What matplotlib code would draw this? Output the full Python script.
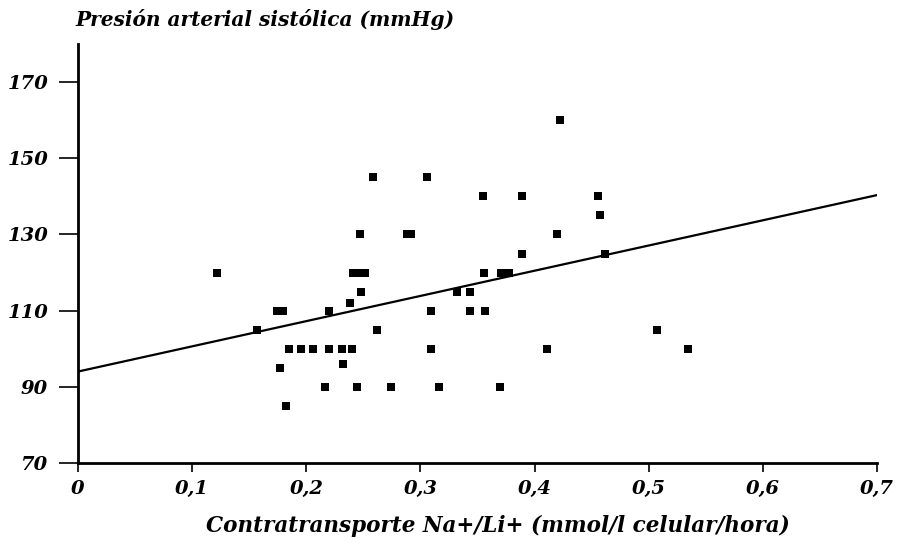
import matplotlib
matplotlib.use("Agg")
import matplotlib.pyplot as plt

# Na+/Li+ countertransport (mmol/l cell/hour) vs systolic blood pressure (mmHg)
contratransporte = [
    0.122, 0.157, 0.174, 0.180, 0.177, 0.182, 0.185, 0.195, 0.206, 0.220,
    0.220, 0.216, 0.231, 0.232, 0.240, 0.238, 0.248, 0.241, 0.246, 0.251,
    0.247, 0.258, 0.262, 0.244, 0.274, 0.288, 0.292, 0.306, 0.309, 0.309,
    0.316, 0.332, 0.343, 0.343, 0.357, 0.356, 0.355, 0.371, 0.378, 0.370,
    0.389, 0.389, 0.411, 0.420, 0.422, 0.456, 0.457, 0.462, 0.507, 0.534,
]
presion_sistolica = [
    120, 105, 110, 110, 95, 85, 100, 100, 100, 110,
    100, 90, 100, 96, 100, 112, 115, 120, 120, 120,
    130, 145, 105, 90, 90, 130, 130, 145, 110, 100,
    90, 115, 115, 110, 110, 120, 140, 120, 120, 90,
    140, 125, 100, 130, 160, 140, 135, 125, 105, 100,
]

# fitted regression line
ordenada = 94.0
pendiente = 66.2

x_ticks = [0, 0.1, 0.2, 0.3, 0.4, 0.5, 0.6, 0.7]
x_ticklabels = ["0", "0,1", "0,2", "0,3", "0,4", "0,5", "0,6", "0,7"]
y_ticks = [70, 90, 110, 130, 150, 170]

font = dict(family="DejaVu Serif", weight="bold", style="italic")

fig = plt.figure(figsize=(8.99, 5.44), dpi=100)
ax = fig.add_axes([0.0868, 0.149, 0.8887, 0.770])

ax.scatter(contratransporte, presion_sistolica, marker="s", s=26,
           color="black", linewidths=0, zorder=3)
ax.plot([0, 0.7], [ordenada, ordenada + pendiente * 0.7],
        color="black", lw=1.6, zorder=2)

ax.set_xlim(0, 0.7)
ax.set_ylim(70, 180)
ax.set_xticks(x_ticks)
ax.set_xticklabels(x_ticklabels, fontsize=14, **font)
ax.set_yticks(y_ticks)
ax.set_yticklabels([str(v) for v in y_ticks], fontsize=14, **font)

ax.tick_params(axis="y", direction="out", length=14, width=1.2, pad=7.5)
ax.tick_params(axis="x", direction="out", length=6.5, width=1.2, pad=6)

for side in ("top", "right"):
    ax.spines[side].set_visible(False)
for side in ("left", "bottom"):
    ax.spines[side].set_linewidth(2)

fig.text(75 / 899, 1 - 19 / 544, "Presión arterial sistólica (mmHg)",
         ha="left", va="center", fontsize=14.5, **font)
fig.text(498 / 899, 1 - 526 / 544,
         "Contratransporte Na+/Li+ (mmol/l celular/hora)",
         ha="center", va="center", fontsize=15.5, **font)

fig.savefig("out.png", dpi=100)
